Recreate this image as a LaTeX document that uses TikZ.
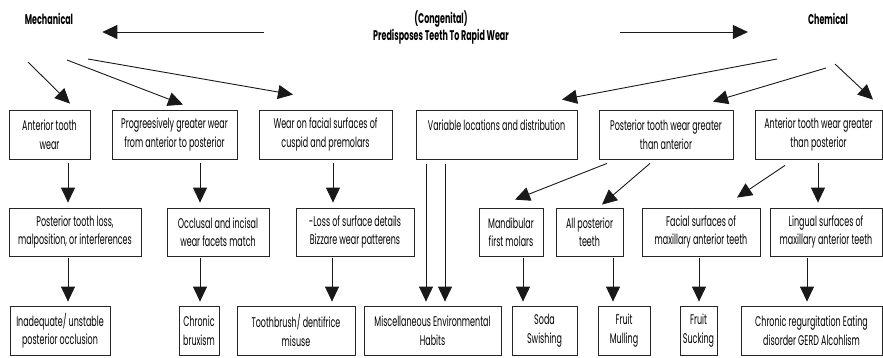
\documentclass[tikz,border=0pt]{standalone}
\usepackage{fontspec}
\setmainfont[FakeStretch=0.57]{Poppins}
\usetikzlibrary{arrows.meta}
\begin{document}
\begin{tikzpicture}[x=1pt,y=-1pt,
  box/.style={draw=black!85, line width=0.8pt, inner sep=0pt, align=center,
    font=\fontsize{14}{18.5}\selectfont},
  ttl/.style={inner sep=0pt, align=center, font=\fontsize{14}{17}\selectfont\bfseries},
  arr/.style={-{Triangle[length=15pt,width=14pt]}, line width=0.9pt, draw=black!90}]
\useasboundingbox (0,0) rectangle (883,357);
% titles
\node[ttl] (mech) at (49,19) {Mechanical};
\node[ttl] (cong) at (441,27) {(Congenital)\\Predisposes Teeth To Rapid Wear};
\node[ttl] (chem) at (828,19) {Chemical};
% row 1
\node[box, minimum width=81pt, minimum height=49pt] (a1) at (49.5,134.5) {Anterior tooth\\wear};
\node[box, minimum width=125pt, minimum height=49pt] (a2) at (174.5,134.5) {Progreesively greater wear\\from anterior to posterior};
\node[box, minimum width=133pt, minimum height=49pt] (a3) at (325.5,134.5) {Wear on facial surfaces of\\cuspid and premolars};
\node[box, minimum width=161pt, minimum height=49pt] (a4) at (496.5,134.5) {Variable locations and distribution\\\phantom{A}};
\node[box, minimum width=134pt, minimum height=49pt] (a5) at (666,134.5) {Posterior tooth wear greater\\than anterior};
\node[box, minimum width=127pt, minimum height=49pt] (a6) at (818.5,134.5) {Anterior tooth wear greater\\than posterior};
% row 2
\node[box, minimum width=132pt, minimum height=48pt] (b1) at (75,232) {Posterior tooth loss,\\malposition, or interferences};
\node[box, minimum width=102pt, minimum height=48pt] (b2) at (218,232) {Occlusal and incisal\\wear facets match};
\node[box, minimum width=118pt, minimum height=48pt] (b3) at (355,232) {-Loss of surface details\\Bizzare wear patterens};
\node[box, minimum width=64pt, minimum height=48pt] (b4) at (511,232) {Mandibular\\first molars};
\node[box, minimum width=67pt, minimum height=48pt] (b5) at (589.5,232) {All posterior\\teeth};
\node[box, minimum width=118pt, minimum height=48pt] (b6) at (701,232) {Facial surfaces of\\maxillary anterior teeth};
\node[box, minimum width=112pt, minimum height=48pt] (b7) at (826,232) {Lingual surfaces of\\maxillary anterior teeth};
% row 3
\node[box, minimum width=100pt, minimum height=49pt] (c1) at (60,330.5) {Inadequate/ unstable\\posterior occlusion};
\node[box, minimum width=40pt, minimum height=49pt] (c2) at (199,330.5) {Chronic\\bruxism};
\node[box, minimum width=118pt, minimum height=49pt] (c3) at (296,330.5) {Toothbrush/ dentifrice\\misuse};
\node[box, minimum width=137pt, minimum height=49pt] (c4) at (432.5,330.5) {Miscellaneous Environmental\\Habits};
\node[box, minimum width=65pt, minimum height=49pt] (c5) at (544.5,330.5) {Soda\\Swishing};
\node[box, minimum width=52pt, minimum height=49pt] (c6) at (624,330.5) {Fruit\\Mulling};
\node[box, minimum width=37pt, minimum height=49pt] (c7) at (698.5,330.5) {Fruit\\Sucking};
\node[box, minimum width=141pt, minimum height=49pt] (c8) at (811.5,330.5) {Chronic regurgitation Eating\\disorder GERD Alcohlism};
% top horizontal arrows
\draw[arr, shorten <=109pt, shorten >=29pt] (cong.west |- 0,32) -- (mech.east |- 0,32);
\draw[arr, shorten <=111pt, shorten >=60pt] (cong.east |- 0,32) -- (chem.west |- 0,32);
% diagonal arrows from Mechanical
\draw[arr] ([shift={(-21,43)}]mech.center) -- ([shift={(20.5,-6)}]a1.north);
\draw[arr] ([shift={(18,41)}]mech.center) -- ([shift={(8.5,-5)}]a2.north);
\draw[arr] ([shift={(39,40)}]mech.center) -- ([shift={(-32.5,-15)}]a3.north);
% diagonal arrows from Chemical
\draw[arr] ([shift={(-51,40)}]chem.center) -- ([shift={(65.5,-10)}]a4.north);
\draw[arr] ([shift={(-2,49)}]chem.center) -- ([shift={(47,-8)}]a5.north);
\draw[arr] ([shift={(7,45)}]chem.center) -- ([shift={(54.5,-10)}]a6.north);
% row1 -> row2
\draw[arr, shorten <=4pt, shorten >=5pt] (a1.south -| 68,0) -- (b1.north -| 68,0);
\draw[arr, shorten <=4pt, shorten >=5pt] (a2.south -| 200,0) -- (b2.north -| 200,0);
\draw[arr, shorten <=4pt, shorten >=5pt] (a3.south -| 333,0) -- (b3.north -| 333,0);
\draw[arr] ([shift={(-59,4)}]a5.south) -- ([shift={(4,-8)}]b4.north);
\draw[arr] ([shift={(-16,4)}]a5.south) -- ([shift={(12.5,-3)}]b5.north);
\draw[arr] ([shift={(-33.5,6)}]a6.south) -- ([shift={(36,-10)}]b6.north);
\draw[arr, shorten <=4pt, shorten >=5pt] (a6.south -| 818,0) -- (b7.north -| 818,0);
% long verticals
\draw[arr, shorten <=5pt, shorten >=4pt] (a4.south -| 426,0) -- (c4.north -| 426,0);
\draw[arr, shorten <=5pt, shorten >=4pt] (a4.south -| 445,0) -- (c4.north -| 445,0);
% row2 -> row3
\draw[arr, shorten <=2pt, shorten >=4pt] (b1.south -| 68,0) -- (c1.north -| 68,0);
\draw[arr, shorten <=2pt, shorten >=4pt] (b2.south -| 200,0) -- (c2.north -| 200,0);
\draw[arr, shorten <=2pt, shorten >=4pt] (b3.south -| 332,0) -- (c3.north -| 332,0);
\draw[arr, shorten <=2pt, shorten >=4pt] (b4.south -| 523,0) -- (c5.north -| 523,0);
\draw[arr, shorten <=2pt, shorten >=4pt] (b5.south -| 613,0) -- (c6.north -| 613,0);
\draw[arr, shorten <=2pt, shorten >=4pt] (b6.south -| 699,0) -- (c7.north -| 699,0);
\draw[arr, shorten <=2pt, shorten >=4pt] (b7.south -| 807,0) -- (c8.north -| 807,0);
\end{tikzpicture}
\end{document}
